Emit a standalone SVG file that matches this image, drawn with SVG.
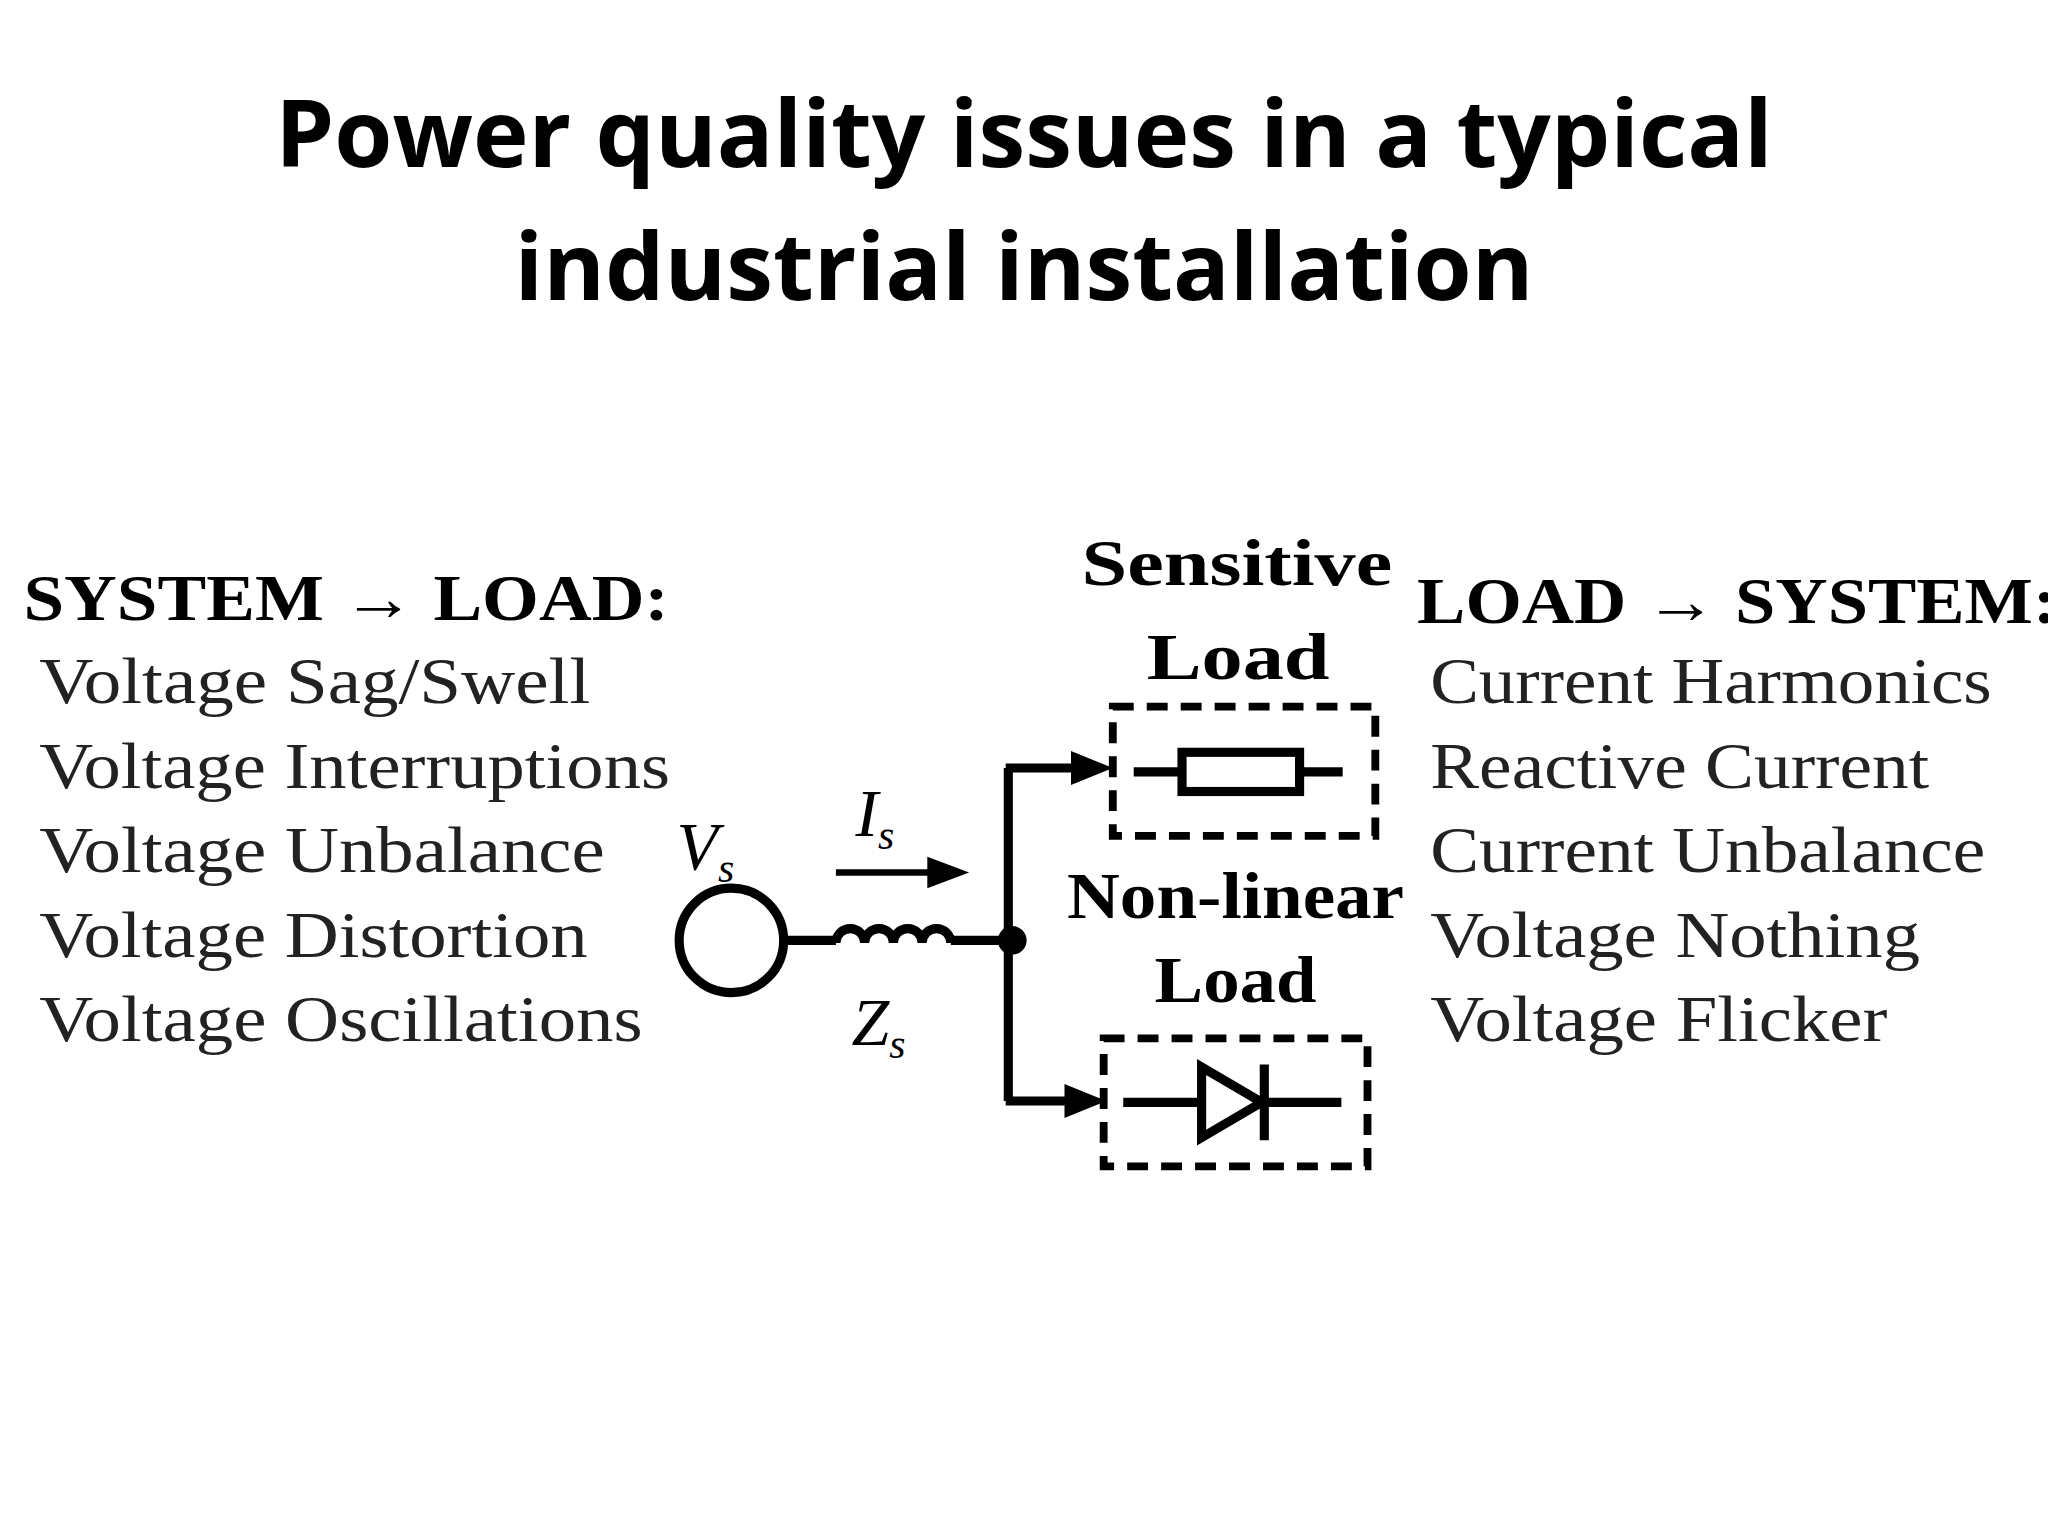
<svg xmlns="http://www.w3.org/2000/svg" width="2048" height="1536" viewBox="0 0 2048 1536">
<style>
.t{font-family:"Open Sans","Liberation Sans",sans-serif;font-weight:bold;font-size:72px;text-anchor:middle}
.s{font-family:"Liberation Serif",serif;font-size:50px;fill:#222}
.b{font-family:"Liberation Serif",serif;font-size:50px;font-weight:bold}
.i{font-family:"Liberation Serif",serif;font-size:52px;font-style:italic}
.w{stroke:#000;stroke-width:7;fill:none}
.d{stroke:#000;stroke-width:6;fill:none;stroke-dasharray:16 10}
</style>
<rect width="2048" height="1536" fill="#fff"/>
<g transform="scale(1.3061)">
<g id="title"><text class="t" x="784" y="128">Power quality issues in a typical</text><text class="t" x="784" y="230">industrial installation</text></g>
<g id="left">
<text class="b" x="18" y="475" textLength="494" lengthAdjust="spacingAndGlyphs">SYSTEM → LOAD:</text>
<text class="s" x="30" y="538" textLength="422" lengthAdjust="spacingAndGlyphs">Voltage Sag/Swell</text>
<text class="s" x="30" y="603" textLength="483" lengthAdjust="spacingAndGlyphs">Voltage Interruptions</text>
<text class="s" x="30" y="668" textLength="433" lengthAdjust="spacingAndGlyphs">Voltage Unbalance</text>
<text class="s" x="30" y="733" textLength="420" lengthAdjust="spacingAndGlyphs">Voltage Distortion</text>
<text class="s" x="30" y="797" textLength="462" lengthAdjust="spacingAndGlyphs">Voltage Oscillations</text>
</g>
<g id="right">
<text class="b" x="1085" y="477" textLength="490" lengthAdjust="spacingAndGlyphs">LOAD → SYSTEM:</text>
<text class="s" x="1095" y="538" textLength="430" lengthAdjust="spacingAndGlyphs">Current Harmonics</text>
<text class="s" x="1095" y="603" textLength="382" lengthAdjust="spacingAndGlyphs">Reactive Current</text>
<text class="s" x="1095" y="668" textLength="425" lengthAdjust="spacingAndGlyphs">Current Unbalance</text>
<text class="s" x="1095" y="733" textLength="375" lengthAdjust="spacingAndGlyphs">Voltage Nothing</text>
<text class="s" x="1095" y="797" textLength="350" lengthAdjust="spacingAndGlyphs">Voltage Flicker</text>
</g>
<g id="labels">
<text class="b" x="828" y="448" textLength="238" lengthAdjust="spacingAndGlyphs">Sensitive</text>
<text class="b" x="878" y="520" textLength="140" lengthAdjust="spacingAndGlyphs">Load</text>
<text class="b" x="817" y="703" textLength="258" lengthAdjust="spacingAndGlyphs">Non-linear</text>
<text class="b" x="884" y="767" textLength="124" lengthAdjust="spacingAndGlyphs">Load</text>
</g>
<g id="source"><circle cx="560" cy="720" r="40" class="w"/>
<text class="i" x="518" y="665">V<tspan font-size="32" dy="10">s</tspan></text></g>
<g id="inductor"><path class="w" d="M640,722 a11,11 0 0 1 22,0 a11,11 0 0 1 22,0 a11,11 0 0 1 22,0 a11,11 0 0 1 22,0"/>
<text class="i" x="655" y="640">I<tspan font-size="32" dy="10">s</tspan></text>
<text class="i" x="652" y="800">Z<tspan font-size="32" dy="10">s</tspan></text></g>
<g id="connectors">
<path class="w" d="M600,720H640M728,720H775M772,588V843M770,588H825M770,843H820"/>
<path d="M820,575L852,588L820,601Z"/>
<path d="M815,830L847,843L815,856Z"/>
<path d="M640,668H715" stroke="#000" stroke-width="5"/>
<path d="M710,656L742,668L710,680Z"/>
<circle cx="775" cy="720" r="11"/>
</g>
<g id="sensitive"><rect class="d" x="852" y="541" width="201" height="99"/>
<path class="w" d="M868,591H905M995,591H1028"/><rect class="w" x="905" y="576" width="90" height="30"/></g>
<g id="nonlinear"><rect class="d" x="845" y="795" width="202" height="98"/>
<path class="w" d="M860,844H920M968,844H1027M968,815V873"/><path class="w" d="M920,817V871L966,844Z"/></g>
</g>
</svg>
